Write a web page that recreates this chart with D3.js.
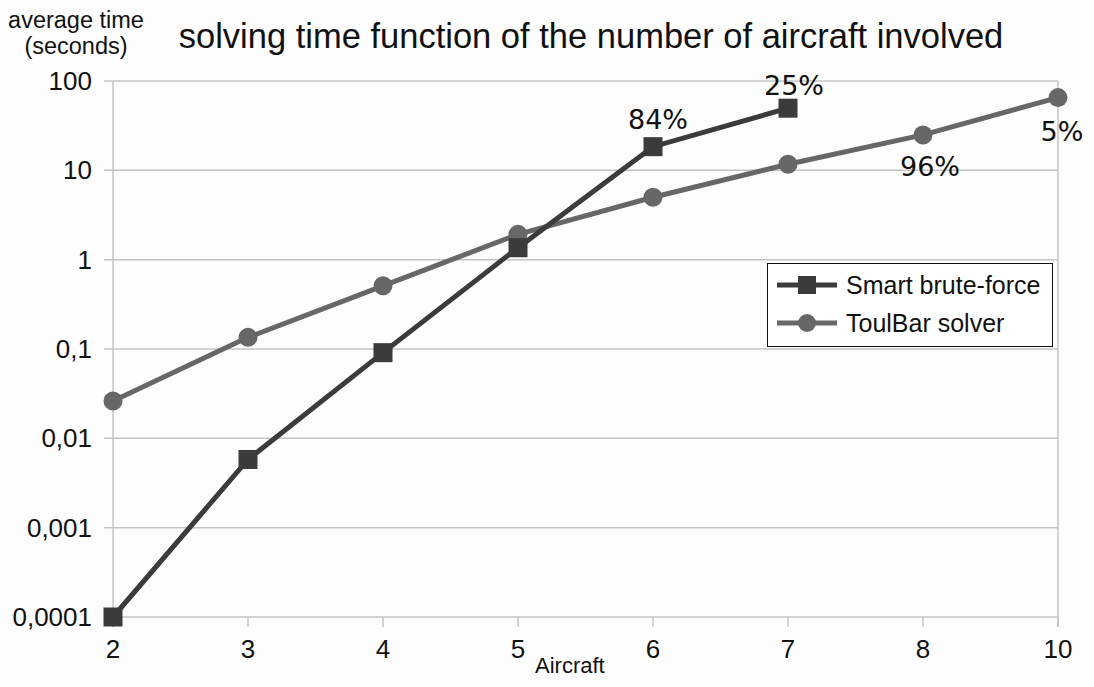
<!DOCTYPE html>
<html>
<head>
<meta charset="utf-8">
<script src="https://cdn.jsdelivr.net/npm/d3@7"></script>
<style>
  body { margin: 0; background: #fdfdfd; }
  svg { display: block; }
</style>
</head>
<body>
<svg id="chart" width="1094" height="687"></svg>
<script>
// data
const aircraft = ["2", "3", "4", "5", "6", "7", "8", "10"];
const bruteForce = [0.0001, 0.0058, 0.091, 1.36, 18.4, 49.6];
const toulBar = [0.0262, 0.135, 0.51, 1.92, 5.0, 11.7, 24.9, 65.2];
const yTicks = [0.0001, 0.001, 0.01, 0.1, 1, 10, 100];
const yTickLabels = ["0,0001", "0,001", "0,01", "0,1", "1", "10", "100"];
// percentage labels: series, index, text
const pctLabels = [
  { s: "brute", i: 4, text: "84%" },
  { s: "brute", i: 5, text: "25%" },
  { s: "toul", i: 6, text: "96%" },
  { s: "toul", i: 7, text: "5%" }
];

const svg = d3.select("#chart");
const plotLeft = 113, plotRight = 1058, plotTop = 81, plotBottom = 617;
const DARK = "#3b3b3b";
const GREY = "#676767";
const FONT = "'Liberation Sans', Arial, sans-serif";

const x = d3.scalePoint().domain(aircraft).range([plotLeft, plotRight]);
const y = d3.scaleLog().domain([0.0001, 100]).range([plotBottom, plotTop]);

// horizontal gridlines
svg.append("g")
  .selectAll("line")
  .data(yTicks)
  .join("line")
  .attr("x1", plotLeft - 9)
  .attr("x2", plotRight)
  .attr("y1", d => y(d))
  .attr("y2", d => y(d))
  .attr("stroke", "#c4c4c4")
  .attr("stroke-width", 1.5);

// left and right frame lines
svg.append("line")
  .attr("x1", plotLeft).attr("x2", plotLeft)
  .attr("y1", plotTop).attr("y2", plotBottom + 10)
  .attr("stroke", "#c4c4c4").attr("stroke-width", 1.5);
svg.append("line")
  .attr("x1", plotRight).attr("x2", plotRight)
  .attr("y1", plotTop).attr("y2", plotBottom + 10)
  .attr("stroke", "#c4c4c4").attr("stroke-width", 1.5);

// x ticks
svg.append("g")
  .selectAll("line")
  .data(aircraft)
  .join("line")
  .attr("x1", d => x(d)).attr("x2", d => x(d))
  .attr("y1", plotBottom).attr("y2", plotBottom + 10)
  .attr("stroke", "#c4c4c4").attr("stroke-width", 1.5);

// x tick labels
svg.append("g")
  .selectAll("text")
  .data(aircraft)
  .join("text")
  .attr("x", d => x(d))
  .attr("y", 658)
  .attr("text-anchor", "middle")
  .attr("font-family", FONT)
  .attr("font-size", 26)
  .attr("fill", "#111")
  .text(d => d);

// y tick labels
svg.append("g")
  .selectAll("text")
  .data(yTicks)
  .join("text")
  .attr("x", 92)
  .attr("y", d => y(d) + 9)
  .attr("text-anchor", "end")
  .attr("font-family", FONT)
  .attr("font-size", 26)
  .attr("fill", "#111")
  .text((d, i) => yTickLabels[i]);

// titles
svg.append("text")
  .attr("x", 591).attr("y", 48)
  .attr("text-anchor", "middle")
  .attr("font-family", FONT)
  .attr("font-size", 34.5)
  .attr("fill", "#111")
  .text("solving time function of the number of aircraft involved");

svg.append("text")
  .attr("x", 76).attr("y", 28)
  .attr("text-anchor", "middle")
  .attr("font-family", FONT)
  .attr("font-size", 23.5)
  .attr("fill", "#111")
  .text("average time");
svg.append("text")
  .attr("x", 76).attr("y", 54)
  .attr("text-anchor", "middle")
  .attr("font-family", FONT)
  .attr("font-size", 23.5)
  .attr("fill", "#111")
  .text("(seconds)");

svg.append("text")
  .attr("x", 535).attr("y", 673)
  .attr("text-anchor", "start")
  .attr("font-family", FONT)
  .attr("font-size", 22)
  .attr("fill", "#111")
  .text("Aircraft");

// lines
const line = d3.line()
  .x((d, i) => x(aircraft[i]))
  .y(d => y(d));

svg.append("path")
  .attr("d", line(toulBar))
  .attr("fill", "none")
  .attr("stroke", GREY)
  .attr("stroke-width", 5);

svg.append("path")
  .attr("d", line(bruteForce))
  .attr("fill", "none")
  .attr("stroke", DARK)
  .attr("stroke-width", 5);

// markers
svg.append("g")
  .selectAll("circle")
  .data(toulBar)
  .join("circle")
  .attr("cx", (d, i) => x(aircraft[i]))
  .attr("cy", d => y(d))
  .attr("r", 9.5)
  .attr("fill", GREY);

svg.append("g")
  .selectAll("rect")
  .data(bruteForce)
  .join("rect")
  .attr("x", (d, i) => x(aircraft[i]) - 9.5)
  .attr("y", d => y(d) - 9.5)
  .attr("width", 19)
  .attr("height", 19)
  .attr("fill", DARK);

// percentage labels
const pctPos = {
  "84%": { dx: 5, dy: -18 },
  "25%": { dx: 6, dy: -13 },
  "96%": { dx: 7, dy: 41 },
  "5%": { dx: 4, dy: 43 }
};
svg.append("g")
  .selectAll("text")
  .data(pctLabels)
  .join("text")
  .attr("x", d => x(aircraft[d.i]) + pctPos[d.text].dx)
  .attr("y", d => y(d.s === "brute" ? bruteForce[d.i] : toulBar[d.i]) + pctPos[d.text].dy)
  .attr("text-anchor", "middle")
  .attr("font-family", "'DejaVu Sans', sans-serif")
  .attr("font-size", 27)
  .attr("fill", "#111")
  .text(d => d.text);

// legend
const legend = svg.append("g");
legend.append("rect")
  .attr("x", 767.5).attr("y", 263.5)
  .attr("width", 285).attr("height", 83)
  .attr("fill", "#fff")
  .attr("stroke", "#111")
  .attr("stroke-width", 1);

const legendItems = [
  { name: "Smart brute-force", color: DARK, shape: "square" },
  { name: "ToulBar solver", color: GREY, shape: "circle" }
];
legendItems.forEach((it, k) => {
  const cy = 285 + k * 38;
  legend.append("line")
    .attr("x1", 777).attr("x2", 837)
    .attr("y1", cy).attr("y2", cy)
    .attr("stroke", it.color).attr("stroke-width", 5);
  if (it.shape === "square") {
    legend.append("rect")
      .attr("x", 798).attr("y", cy - 9)
      .attr("width", 18).attr("height", 18)
      .attr("fill", it.color);
  } else {
    legend.append("circle")
      .attr("cx", 807).attr("cy", cy)
      .attr("r", 9)
      .attr("fill", it.color);
  }
  legend.append("text")
    .attr("x", 846).attr("y", cy + 9)
    .attr("font-family", FONT)
    .attr("font-size", 25)
    .attr("fill", "#111")
    .text(it.name);
});
</script>
</body>
</html>
